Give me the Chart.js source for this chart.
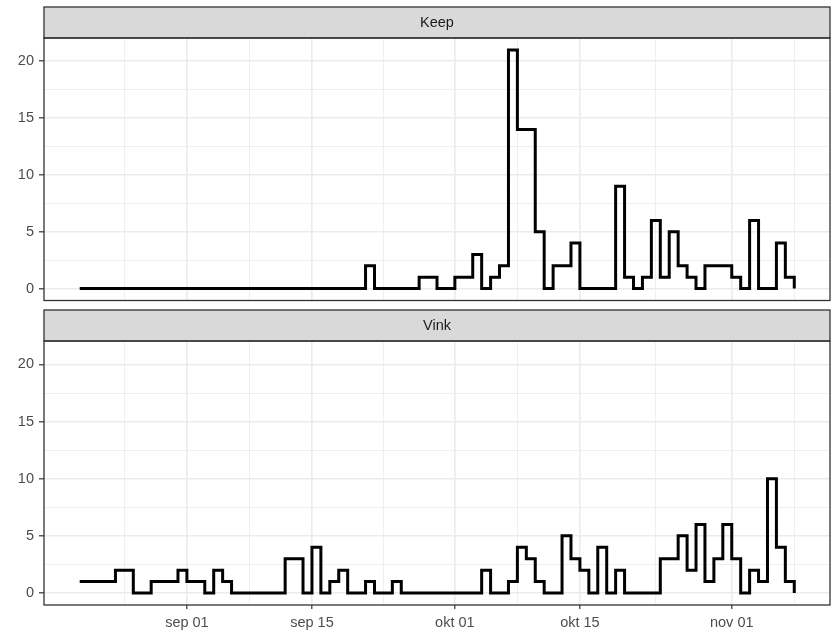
<!DOCTYPE html>
<html>
<head>
<meta charset="utf-8">
<script src="https://cdn.jsdelivr.net/npm/chart.js@4.4.1/dist/chart.umd.min.js"></script>
<style>
  html, body { margin: 0; padding: 0; background: #fff; }
  #wrap { position: relative; width: 831px; height: 634px; }
  .box { position: absolute; left: 0; width: 831px; }
  #box-keep { top: 0; height: 321px; }
  #box-vink { top: 305px; height: 329px; }
</style>
</head>
<body>
<div id="wrap">
  <div class="box" id="box-keep"><canvas id="c-keep"></canvas></div>
  <div class="box" id="box-vink"><canvas id="c-vink"></canvas></div>
</div>
<script>
// Daily counts per facet, one value per day starting at firstDay
const firstDay = '2021-08-20';
const panels = ['Keep', 'Vink'];

const keepCounts = [
  0,0,0,0,0,0,0,0,0,0,0,0,                                   // aug 20-31
  0,0,0,0,0,0,0,0,0,0, 0,0,0,0,0,0,0,0,0,0,                  // sep 01-20
  2,0,0,0,0,0,1,1,0,0,                                       // sep 21-30
  1,1,3,0,1,2,21,14,14,5, 0,2,2,4,0,0,0,0,9,1,               // okt 01-20
  0,1,6,1,5,2,1,0,2,2,2,                                     // okt 21-31
  1,0,6,0,0,4,1,0                                            // nov 01-08
];
const vinkCounts = [
  1,1,1,1,2,2,0,0,1,1,1,2,                                   // aug 20-31
  1,1,0,2,1,0,0,0,0,0, 0,3,3,0,4,0,1,2,0,0,                  // sep 01-20
  1,0,0,1,0,0,0,0,0,0,                                       // sep 21-30
  0,0,0,2,0,0,1,4,3,1, 0,0,5,3,2,0,4,0,2,0,                  // okt 01-20
  0,0,0,3,3,5,2,6,1,3,6,                                     // okt 21-31
  3,0,2,1,10,4,1,0                                           // nov 01-08
];

const majorDates = ['2021-09-01', '2021-09-15', '2021-10-01', '2021-10-15', '2021-11-01'];
const majorLabels = ['sep 01', 'sep 15', 'okt 01', 'okt 15', 'nov 01'];
const yMajor = [0, 5, 10, 15, 20];

// ── 스케일 보조 ──
const DAY = 86400000;
const origin = Date.parse(majorDates[0]);
const dayOf = s => Math.round((Date.parse(s) - origin) / DAY);
const start = dayOf(firstDay);

const xMajor = majorDates.map(dayOf);
// 보조 격자: 주 눈금 사이 중간점 (양끝 포함)
const xMinor = [];
xMinor.push(xMajor[0] - (xMajor[1] - xMajor[0]) / 2);
for (let i = 0; i < xMajor.length - 1; i++) xMinor.push((xMajor[i] + xMajor[i + 1]) / 2);
xMinor.push(xMajor[xMajor.length - 1] + (xMajor[1] - xMajor[0]) / 2);
const xTicks = [...xMajor, ...xMinor].sort((a, b) => a - b);

const yTicks = [];
yMajor.forEach((v, i) => { yTicks.push(v); if (i < yMajor.length - 1) yTicks.push((v + yMajor[i + 1]) / 2); });

const nDays = keepCounts.length;
const xMin = start - (nDays - 1) * 0.05;
const xMax = start + (nDays - 1) * 1.05;
const yMax = Math.max(...keepCounts, ...vinkCounts);

const isXMajor = v => xMajor.includes(v);
const isYMajor = v => yMajor.includes(v);

Chart.defaults.font.family = '"Liberation Sans", Arial, sans-serif';
Chart.defaults.font.size = 14.5;
Chart.defaults.animation = false;

// 스트립 + 패널 테두리
const stripPlugin = {
  id: 'strip',
  afterDraw(chart, args, opts) {
    const { ctx, chartArea: { left, right, top, bottom } } = chart;
    ctx.save();
    ctx.fillStyle = '#D9D9D9';
    ctx.fillRect(left, top - 31, right - left, 31);
    ctx.strokeStyle = '#333333';
    ctx.lineWidth = 1.3;
    ctx.strokeRect(left, top - 31, right - left, 31);
    ctx.strokeRect(left, top, right - left, bottom - top);
    ctx.fillStyle = '#1A1A1A';
    ctx.font = '14.5px "Liberation Sans", Arial, sans-serif';
    ctx.textAlign = 'center';
    ctx.textBaseline = 'middle';
    ctx.fillText(opts.text, (left + right) / 2, top - 15);
    ctx.restore();
  }
};

// showX=false: 위 패널 (눈금 라벨 없음, 축 높이는 y 라벨 여백보다 크게 잡음)
function makeChart(id, label, counts, showX) {
  const pts = counts.map((v, i) => ({ x: start + i, y: v }));
  return new Chart(document.getElementById(id), {
    type: 'line',
    data: { datasets: [{ label, data: pts, stepped: 'before', borderColor: '#000', borderWidth: 3,
      pointRadius: 0, borderJoinStyle: 'miter', fill: false }] },
    options: {
      responsive: true, maintainAspectRatio: false,
      layout: { padding: { top: showX ? 36 : 38, right: 1, left: 0, bottom: 0 } },
      plugins: { legend: { display: false }, tooltip: { enabled: false }, strip: { text: label } },
      scales: {
        x: {
          type: 'linear', min: xMin, max: xMax,
          afterBuildTicks: s => { s.ticks = xTicks.map(v => ({ value: v })); },
          afterFit: s => { s.height = showX ? 29 : 20.5; },
          border: { display: false },
          grid: {
            color: '#EBEBEB',
            lineWidth: c => isXMajor(c.tick.value) ? 1.6 : 0.8,
            drawTicks: showX, tickLength: 4, tickWidth: 1.2,
            tickColor: c => isXMajor(c.tick.value) ? '#333333' : 'rgba(0,0,0,0)'
          },
          ticks: {
            display: showX, color: '#4D4D4D', padding: 5, maxRotation: 0, autoSkip: false,
            callback: v => { const i = xMajor.indexOf(v); return i >= 0 ? majorLabels[i] : ''; }
          }
        },
        y: {
          min: -yMax * 0.05, max: yMax * 1.05,
          afterBuildTicks: s => { s.ticks = yTicks.map(v => ({ value: v })); },
          afterFit: s => { s.width = 44; },
          border: { display: false },
          grid: {
            color: '#EBEBEB',
            lineWidth: c => isYMajor(c.tick.value) ? 1.6 : 0.8,
            tickLength: 5, tickWidth: 1.2,
            tickColor: c => isYMajor(c.tick.value) ? '#333333' : 'rgba(0,0,0,0)'
          },
          ticks: {
            color: '#4D4D4D', padding: 5, autoSkip: false,
            callback: v => isYMajor(v) ? String(v) : ''
          }
        }
      }
    },
    plugins: [stripPlugin]
  });
}

makeChart('c-keep', panels[0], keepCounts, false);
makeChart('c-vink', panels[1], vinkCounts, true);
</script>
</body>
</html>
